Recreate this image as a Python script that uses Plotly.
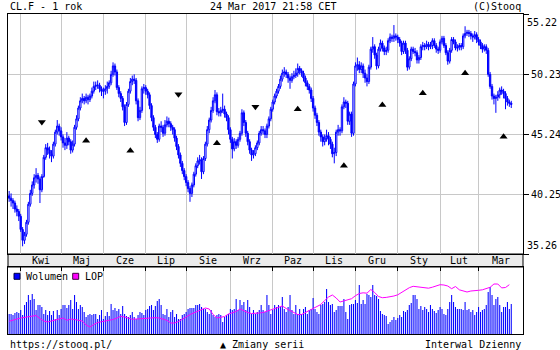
import plotly.graph_objects as go
import pandas as pd

# ---------------- data ----------------
dates = [d.strftime('%Y-%m-%d') for d in pd.bdate_range('2016-03-24', '2017-03-24')]

first_open = 40.1
close = [
    39.9, 39.7, 39.5, 39.0, 38.8, 38.4, 37.3, 36.4, 36.9, 37.9,
    39.4, 40.3, 41.0, 41.6, 41.8, 41.5, 40.6, 41.7, 43.3, 44.1,
    43.9, 43.6, 43.4, 44.4, 45.4, 45.9, 45.5, 45.0, 44.5, 44.3,
    44.9, 44.6, 43.9, 44.4, 45.8, 46.5, 47.4, 48.0, 48.2, 48.0,
    48.3, 48.1, 48.4, 48.8, 49.2, 49.3, 49.3, 49.0, 48.8, 48.8,
    49.0, 49.2, 49.5, 50.2, 50.9, 50.4, 49.1, 48.6, 48.2, 47.5,
    46.2, 47.7, 48.8, 49.6, 49.8, 49.7, 48.0, 46.6, 47.2, 49.0,
    49.1, 48.8, 48.5, 47.6, 46.6, 45.8, 45.2, 44.8, 45.9, 45.8,
    45.3, 46.0, 46.3, 46.1, 45.8, 45.6, 44.9, 44.2, 43.5, 42.8,
    42.2, 41.7, 41.2, 40.7, 40.3, 41.0, 41.9, 42.6, 43.0, 43.1,
    42.1, 43.2, 44.4, 45.6, 46.4, 47.2, 48.0, 48.5, 47.1, 47.0,
    47.2, 47.3, 46.9, 46.6, 45.6, 44.8, 44.0, 44.6, 44.3, 44.8,
    45.3, 47.0, 46.2, 45.3, 44.6, 43.9, 43.5, 43.6, 44.1, 44.5,
    45.3, 45.6, 45.5, 45.2, 45.9, 46.5, 47.3, 47.9, 48.4, 48.8,
    49.2, 49.8, 50.3, 50.4, 50.2, 49.9, 49.7, 50.0, 50.1, 50.3,
    50.7, 50.5, 50.3, 49.9, 49.5, 49.2, 48.9, 48.2, 47.4, 46.8,
    46.2, 45.4, 45.0, 44.6, 44.9, 45.1, 44.8, 44.4, 43.6, 43.7,
    45.4, 45.6, 45.5, 47.5, 47.9, 47.8, 46.3, 46.9, 45.3, 49.4,
    50.9, 51.0, 50.6, 50.9, 50.3, 49.9, 49.6, 50.8, 52.3, 52.5,
    51.8, 50.9, 52.3, 52.8, 52.4, 52.1, 52.2, 53.0, 53.3, 53.2,
    53.4, 53.3, 53.1, 52.8, 52.1, 52.8, 52.2, 50.8, 51.5, 52.3,
    52.1, 52.0, 51.4, 51.6, 52.5, 52.6, 52.5, 52.7, 52.5, 52.6,
    53.0, 52.6, 52.3, 52.2, 52.9, 53.2, 52.6, 52.0, 51.3, 52.2,
    53.1, 52.9, 52.4, 52.4, 52.6, 52.5, 53.4, 53.6, 53.7, 53.6,
    53.4, 53.3, 53.5, 53.1, 52.9, 52.6, 52.3, 52.5, 52.2, 50.2,
    49.2, 48.4, 48.2, 48.3, 48.5, 48.9, 48.8, 48.6, 48.2, 47.9,
    47.8, 47.7,
]
high = [
    40.5, 40.3, 39.9, 39.7, 39.3, 39.0, 38.6, 37.5, 37.1, 38.1,
    39.6, 40.6, 41.3, 41.9, 42.4, 42.0, 41.7, 41.9, 43.5, 44.4,
    44.5, 44.2, 43.9, 44.6, 45.6, 46.4, 46.1, 45.8, 45.2, 44.9,
    45.4, 45.1, 44.8, 44.7, 46.0, 46.8, 47.6, 48.3, 48.6, 48.4,
    48.6, 48.5, 48.6, 49.1, 49.6, 49.6, 49.7, 49.5, 49.2, 49.1,
    49.3, 49.6, 49.7, 50.5, 51.2, 51.1, 50.6, 49.3, 48.8, 48.4,
    47.7, 47.9, 49.0, 49.9, 50.1, 50.2, 49.9, 48.2, 47.5, 49.2,
    49.4, 49.3, 49.0, 48.7, 47.8, 46.8, 46.0, 45.4, 46.1, 46.3,
    46.0, 46.4, 46.7, 46.6, 46.3, 46.0, 45.8, 45.1, 44.4, 43.7,
    43.0, 42.4, 41.9, 41.4, 40.9, 41.2, 42.1, 42.8, 43.3, 43.5,
    43.3, 43.4, 44.6, 45.9, 46.6, 47.5, 48.3, 48.9, 48.7, 47.4,
    47.5, 48.6, 47.6, 47.1, 46.8, 45.8, 45.0, 44.9, 44.8, 45.0,
    45.5, 47.3, 47.2, 46.4, 45.5, 44.8, 44.1, 43.9, 44.3, 44.7,
    45.5, 45.9, 45.9, 45.7, 46.1, 46.7, 47.5, 48.1, 48.6, 49.0,
    49.4, 50.1, 50.6, 50.8, 50.6, 50.4, 50.1, 50.3, 50.5, 50.7,
    51.1, 50.9, 50.7, 50.5, 50.1, 49.7, 49.4, 49.1, 48.4, 47.6,
    47.0, 46.4, 45.6, 45.2, 45.2, 45.6, 45.4, 45.0, 44.6, 44.1,
    45.6, 46.0, 45.8, 47.7, 48.3, 48.1, 48.0, 47.1, 47.1, 49.6,
    51.2, 51.6, 51.3, 51.2, 51.1, 50.6, 50.2, 51.0, 52.5, 53.3,
    52.7, 52.0, 52.5, 53.1, 53.0, 52.6, 52.5, 53.2, 53.6, 53.5,
    54.3, 53.6, 53.5, 53.3, 53.0, 53.0, 53.0, 52.4, 51.7, 52.5,
    52.5, 52.4, 52.2, 51.8, 52.7, 52.9, 52.8, 53.0, 52.9, 52.9,
    53.2, 53.2, 52.8, 52.5, 53.1, 53.4, 53.4, 52.8, 52.2, 52.4,
    53.3, 53.3, 53.1, 52.7, 52.8, 52.8, 53.6, 54.2, 53.9, 53.9,
    53.8, 53.6, 53.8, 53.7, 53.3, 53.1, 52.8, 52.7, 52.7, 52.4,
    50.4, 49.4, 48.6, 48.5, 48.8, 49.1, 49.2, 49.0, 48.8, 48.4,
    48.1, 48.0,
]
low = [
    39.6, 39.2, 39.0, 38.7, 38.4, 38.0, 37.1, 35.9, 36.1, 36.7,
    37.7, 39.2, 40.1, 40.7, 41.2, 41.1, 39.5, 40.4, 41.6, 43.1,
    43.5, 43.2, 42.9, 43.2, 44.2, 45.2, 45.1, 44.7, 44.1, 43.9,
    44.0, 44.3, 43.6, 43.7, 44.2, 45.6, 46.3, 47.2, 47.8, 47.7,
    47.8, 47.7, 47.9, 48.2, 48.6, 48.9, 49.0, 48.7, 48.4, 48.2,
    48.5, 48.6, 49.0, 49.3, 50.0, 50.1, 48.9, 48.3, 47.9, 47.2,
    45.9, 46.0, 47.5, 48.6, 49.3, 49.4, 47.7, 46.3, 46.4, 47.0,
    48.6, 48.5, 48.2, 47.3, 46.3, 45.5, 44.9, 44.5, 44.6, 45.4,
    45.0, 45.1, 45.8, 45.8, 45.5, 45.2, 44.6, 43.9, 43.2, 42.5,
    41.9, 41.4, 40.9, 40.4, 39.6, 40.0, 40.8, 41.7, 42.4, 42.7,
    41.5, 41.9, 43.0, 44.2, 45.3, 46.2, 47.0, 47.8, 46.8, 46.7,
    46.7, 47.0, 46.6, 46.3, 45.2, 44.5, 43.2, 43.8, 44.0, 44.1,
    44.6, 45.1, 45.9, 45.0, 44.3, 43.6, 43.0, 43.2, 43.4, 43.9,
    44.3, 45.1, 45.2, 44.9, 44.9, 45.7, 46.3, 47.1, 47.7, 48.2,
    48.6, 49.0, 49.6, 50.0, 49.9, 49.5, 49.0, 49.5, 49.8, 49.9,
    50.0, 50.2, 50.0, 49.6, 49.2, 48.9, 48.6, 47.9, 47.1, 46.5,
    45.9, 45.1, 44.6, 44.2, 44.3, 44.6, 44.3, 44.0, 43.3, 42.8,
    43.4, 45.1, 45.1, 45.3, 47.3, 47.4, 46.0, 46.0, 45.0, 45.1,
    49.2, 50.5, 50.3, 50.3, 49.9, 49.5, 49.2, 49.4, 50.6, 52.0,
    51.5, 50.6, 50.7, 52.1, 52.1, 51.8, 51.8, 52.0, 52.8, 52.9,
    52.9, 53.0, 52.8, 52.5, 51.8, 51.9, 51.9, 50.5, 50.6, 51.3,
    51.9, 51.7, 51.1, 51.1, 51.4, 52.2, 52.2, 52.3, 52.2, 52.3,
    52.3, 52.4, 52.0, 51.9, 52.0, 52.7, 52.4, 51.8, 51.0, 51.1,
    52.0, 52.7, 52.2, 52.1, 52.2, 52.2, 52.3, 53.2, 53.4, 53.3,
    53.1, 52.9, 53.1, 52.8, 52.6, 52.3, 52.0, 52.1, 51.9, 50.0,
    49.0, 48.1, 47.7, 47.0, 48.0, 48.2, 48.5, 48.2, 47.3, 47.6,
    47.5, 47.4,
]
open_ = [first_open] + close[:-1]

# volume (relative units)
volume = [
    20, 20, 19, 21, 22, 21, 24, 19, 29, 32,
    39, 34, 40, 35, 24, 29, 29, 27, 20, 24,
    19, 23, 19, 23, 15, 24, 19, 25, 29, 29, 26,
    29, 34, 25, 39, 32, 25, 29, 27, 22, 17,
    19, 20, 19, 20, 20, 15, 19, 24, 15, 18,
    22, 18, 30, 24, 26, 23, 25, 20, 28, 20, 18,
    17, 19, 22, 17, 15, 19, 22, 21, 19, 24,
    25, 28, 29, 24, 28, 33, 35, 29, 20, 19,
    25, 17, 22, 24, 17, 20, 15, 15, 19, 20, 22,
    25, 26, 26, 26, 29, 29, 30, 27, 25, 25,
    22, 20, 24, 19, 17, 19, 20, 19, 12, 17, 19,
    20, 25, 24, 25, 35, 24, 34, 29, 32, 24,
    34, 27, 20, 24, 20, 22, 24, 29, 24, 22,
    39, 29, 20, 24, 29, 27,
    29, 27, 37, 25, 22, 27, 39, 24, 20, 29,
    20, 25, 20, 25, 27, 20, 24, 25, 36, 25, 22,
    20, 29, 30, 32, 45, 32, 29, 30, 22, 24,
    28, 28, 28, 35, 22, 15, 29, 30, 30, 34, 31,
    49, 30, 34, 30, 40, 39, 37, 49, 39, 38,
    35, 23, 20, 19, 18, 10, 12, 14, 17, 14, 16,
    19, 17, 23, 22, 24, 29, 31, 39, 39, 35,
    25, 28, 24, 27, 25, 22, 29, 25, 23, 21, 24,
    27, 25, 20, 19, 25, 32, 39, 32, 27, 25,
    25, 25, 24, 32, 24, 25, 22, 24, 19, 22,
    27, 22, 24, 25, 29, 42, 47, 39, 29, 35,
    37, 29, 22, 27, 27, 32, 25, 30,
]

# LOP (open interest, relative units), every second session
lop = [
    12.7, 13.5, 15, 16, 16.5, 17.5, 18, 18.5, 15.5, 13,
    12, 13, 14, 15, 16, 13.7, 15, 14.5, 13.7, 13,
    9, 7, 9.5, 11.5, 12.3, 13, 13.5, 14.5, 16, 17.7,
    17, 16, 14.7, 15, 15.3, 15.6, 16, 16.1, 16.3, 16,
    15, 13.7, 11, 11, 12.5, 14.5, 17, 19.5, 21, 22.5,
    24.5, 26, 25, 19.5, 16, 16.5, 17.5, 20, 21.5, 22.5,
    25, 23, 21.5, 20.5, 20.5, 21, 21.5, 22.7, 24.5, 25.5,
    26.5, 28, 25.5, 23.5, 22, 19.5, 19.5, 21.5, 23.5, 25.3,
    27, 29.5, 33.5, 37, 39, 36, 32, 33.3, 34.2, 35.3,
    38.3, 40.5, 41.2, 40.8, 44.5, 41.5, 37.5, 36.3, 36.6, 37,
    38, 39.2, 41.5, 44.5, 46.3, 47.7, 47.3, 46.8, 45.8, 45.8,
    46.8, 48, 49.3, 49, 48, 45.3, 47.5, 44.2, 43, 42,
    43, 43.7, 43.7, 44.2, 45.2, 46.7, 50, 50, 46.1, 46.5,
    49.3,
]

sell_dates = ['2016-04-18', '2016-07-26', '2016-09-20']
sell_price = [46.24, 48.54, 47.51]
buy_dates = ['2016-05-19', '2016-06-21', '2016-08-23', '2016-10-20', '2016-11-23',
             '2016-12-21', '2017-01-19', '2017-02-20', '2017-03-20']
buy_price = [44.68, 43.85, 44.47, 47.29, 42.6, 47.65, 48.62, 50.29, 45.02]

month_labels = ['Kwi', 'Maj', 'Cze', 'Lip', 'Sie', 'Wrz', 'Paz', 'Lis', 'Gru', 'Sty', 'Lut', 'Mar']
price_ticks = [35.26, 40.25, 45.24, 50.23, 55.22]

# ---------------- figure ----------------
FONT = 'DejaVu Sans Mono'
BLUE = '#0000ff'
X_RANGE = [-0.6, 267.1]
PRICE_BOTTOM = 0.25
VOL_TOP = 67 / 320.0

month_start_idx = [i for i in range(1, len(dates)) if dates[i][:7] != dates[i - 1][:7]]
month_start = [dates[i] for i in month_start_idx]
bounds = month_start_idx + [X_RANGE[1]]
label_pos = [(bounds[i] + bounds[i + 1]) / 2 for i in range(len(month_start_idx))]

fig = go.Figure()
fig.add_trace(go.Candlestick(
    x=dates, open=open_, high=high, low=low, close=close,
    increasing=dict(line=dict(color=BLUE, width=1), fillcolor='white'),
    decreasing=dict(line=dict(color=BLUE, width=1), fillcolor=BLUE),
    whiskerwidth=0, xaxis='x', yaxis='y', showlegend=False, hoverinfo='skip'))
fig.add_trace(go.Scatter(
    x=sell_dates, y=sell_price, mode='markers',
    marker=dict(symbol='triangle-down', color='black', size=7, line=dict(width=0)),
    xaxis='x', yaxis='y', showlegend=False, hoverinfo='skip'))
fig.add_trace(go.Scatter(
    x=buy_dates, y=buy_price, mode='markers',
    marker=dict(symbol='triangle-up', color='black', size=7, line=dict(width=0)),
    xaxis='x', yaxis='y', showlegend=False, hoverinfo='skip'))
fig.add_trace(go.Bar(
    x=dates, y=volume, width=0.55,
    marker=dict(color='rgba(0,0,255,0.99)', line=dict(width=0)),
    xaxis='x2', yaxis='y2', showlegend=False, hoverinfo='skip'))
fig.add_trace(go.Scatter(
    x=dates[::2], y=lop, mode='lines', line=dict(color='#ff00ff', width=1),
    xaxis='x2', yaxis='y3', showlegend=False, hoverinfo='skip'))

grid = '#c8c8c8'
fig.update_layout(
    width=560, height=350, autosize=False,
    margin=dict(l=8, r=37, t=14, b=16, pad=0),
    paper_bgcolor='white', plot_bgcolor='white',
    font=dict(family=FONT, size=10, color='black'),
    boxgap=0,
    xaxis=dict(domain=[0, 1], anchor='y', type='category', range=X_RANGE, automargin=False,
               tickmode='array', tickvals=month_start, showticklabels=False, ticks='',
               showgrid=True, gridcolor=grid, gridwidth=1,
               showline=True, linecolor='black', linewidth=1, mirror=True,
               zeroline=False, rangeslider=dict(visible=False), fixedrange=True),
    yaxis=dict(domain=[PRICE_BOTTOM, 1], anchor='x', range=[price_ticks[0], price_ticks[-1]],
               side='right', tickmode='array', tickvals=price_ticks, automargin=False,
               ticktext=[''] + ['%.2f' % v for v in price_ticks[1:-1]] + [''],
               ticks='outside', ticklen=5, tickcolor='black',
               showgrid=True, gridcolor=grid, gridwidth=1,
               showline=True, linecolor='black', linewidth=1, mirror=True,
               zeroline=False, tickfont=dict(family=FONT, size=10)),
    xaxis2=dict(domain=[0, 1], anchor='y2', type='category', range=X_RANGE, side='top',
                automargin=False,
                tickmode='array', tickvals=month_start, showticklabels=False,
                ticks='inside', ticklen=4, tickcolor='black',
                showgrid=True, gridcolor=grid, gridwidth=1,
                showline=True, linecolor='black', linewidth=1, mirror=True, zeroline=False),
    yaxis2=dict(domain=[0, VOL_TOP], anchor='x2', range=[0, 67], showticklabels=False,
                automargin=False,
                showgrid=False, ticks='', showline=True, linecolor='black', linewidth=1,
                mirror=True, zeroline=False),
    yaxis3=dict(overlaying='y2', anchor='x2', range=[0, 67], visible=False, automargin=False),
)

# month band between panels
fig.add_shape(type='rect', xref='paper', yref='paper', x0=0, x1=1, y0=VOL_TOP, y1=PRICE_BOTTOM,
              fillcolor='#ebebeb', line=dict(color='black', width=1), layer='below')
for lab, pos in zip(month_labels, label_pos):
    fig.add_annotation(x=pos, y=(VOL_TOP + PRICE_BOTTOM) / 2, xref='x', yref='paper',
                       text=lab, showarrow=False, xanchor='center', yanchor='middle',
                       font=dict(family=FONT, size=10))

# end tick labels of the price axis, kept inside the panel
fig.add_annotation(x=1, y=1, xref='paper', yref='paper', text='%.2f' % price_ticks[-1],
                   showarrow=False, xanchor='left', yanchor='top', xshift=2, yshift=-1,
                   font=dict(family=FONT, size=10))
fig.add_annotation(x=1, y=PRICE_BOTTOM, xref='paper', yref='paper', text='%.2f' % price_ticks[0],
                   showarrow=False, xanchor='left', yanchor='bottom', xshift=2, yshift=1,
                   font=dict(family=FONT, size=10))

# header / footer texts
top_y = 1 + 7 / 320.0
bot_y = -10 / 320.0
fig.add_annotation(x=0, y=top_y, xref='paper', yref='paper', text='CL.F - 1 rok',
                   showarrow=False, xanchor='left', yanchor='middle')
fig.add_annotation(x=0.5136, y=top_y, xref='paper', yref='paper', text='24 Mar 2017 21:58 CET',
                   showarrow=False, xanchor='center', yanchor='middle')
fig.add_annotation(x=1, y=top_y, xref='paper', yref='paper', text='(C)Stooq',
                   showarrow=False, xanchor='right', yanchor='middle')
fig.add_annotation(x=0, y=bot_y, xref='paper', yref='paper', text='https://stooq.pl/',
                   showarrow=False, xanchor='left', yanchor='middle')
fig.add_annotation(x=0.493, y=bot_y, xref='paper', yref='paper', text='▲ Zmiany serii',
                   showarrow=False, xanchor='center', yanchor='middle')
fig.add_annotation(x=1, y=bot_y, xref='paper', yref='paper', text='Interwal Dzienny',
                   showarrow=False, xanchor='right', yanchor='middle')

# legend in the volume panel
ly0, ly1 = (334 - 279.3) / 320.0, (334 - 273.3) / 320.0
fig.add_shape(type='rect', xref='paper', yref='paper', x0=6 / 515, x1=12 / 515, y0=ly0, y1=ly1,
              fillcolor=BLUE, line=dict(color='#000040', width=1))
fig.add_annotation(x=16 / 515, y=(ly0 + ly1) / 2, xref='paper', yref='paper', text='Wolumen',
                   showarrow=False, xanchor='left', yanchor='middle')
fig.add_shape(type='rect', xref='paper', yref='paper', x0=64.7 / 515, x1=70.7 / 515, y0=ly0, y1=ly1,
              fillcolor='#ff00ff', line=dict(color='#400040', width=1))
fig.add_annotation(x=74.5 / 515, y=(ly0 + ly1) / 2, xref='paper', yref='paper', text='LOP',
                   showarrow=False, xanchor='left', yanchor='middle')

fig.write_html('out.html', config={'displayModeBar': False})
